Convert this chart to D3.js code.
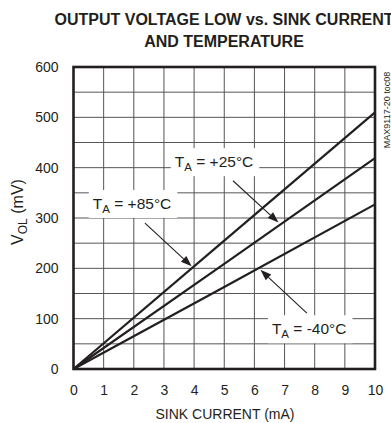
<!DOCTYPE html>
<html>
<head>
<meta charset="utf-8">
<script src="https://cdn.jsdelivr.net/npm/d3@7/dist/d3.min.js"></script>
<style>
  html, body { margin: 0; padding: 0; background: #fff; }
  svg { display: block; font-family: "Liberation Sans", Arial, Helvetica, sans-serif; }
</style>
</head>
<body>
<svg id="chart" width="391" height="423"></svg>
<script>
// ---- data ----
const sinkCurrent = [0, 5, 10];            // mA
const vol85 = [0, 255, 510];               // mV, TA = +85°C
const vol25 = [0, 209, 419];               // mV, TA = +25°C
const volM40 = [0, 163, 327];              // mV, TA = -40°C
const xTicks = [0, 1, 2, 3, 4, 5, 6, 7, 8, 9, 10];
const yTicks = [0, 100, 200, 300, 400, 500, 600];
const yGrid = d3.range(0, 601, 50);
const seriesNames = ["+85°C", "+25°C", "-40°C"];

const titleLines = ["OUTPUT VOLTAGE LOW vs. SINK CURRENT", "AND TEMPERATURE"];

// annotation anchors (data space): label left/baseline, arrow start, arrow tip
const annotations = [
  { name: "+85°C", lx: 0.64, ly: 318, ax0: 2.37, ay0: 290, ax1: 3.92, ay1: 204 },
  { name: "+25°C", lx: 3.36, ly: 401, ax0: 5.29, ay0: 374, ax1: 6.8, ay1: 291 },
  { name: "-40°C", lx: 6.58, ly: 69, ax0: 7.74, ay0: 111, ax1: 6.2, ay1: 197 }
];

// ---- layout ----
const svg = d3.select("#chart");
const x = d3.scaleLinear().domain([0, 10]).range([73.5, 375]);
const y = d3.scaleLinear().domain([0, 600]).range([369, 67]);

// title
svg.append("g").selectAll("text").data(titleLines).join("text")
  .attr("x", 224).attr("y", (d, i) => 25 + i * 22)
  .attr("text-anchor", "middle")
  .attr("font-weight", "bold").attr("font-size", 16).attr("fill", "#231f20")
  .text(d => d);

// grid
const grid = svg.append("g").attr("stroke", "#555").attr("stroke-width", 1);
grid.selectAll("line.v").data(xTicks).join("line").attr("class", "v")
  .attr("x1", d => x(d)).attr("x2", d => x(d)).attr("y1", y(0)).attr("y2", y(600));
grid.selectAll("line.h").data(yGrid).join("line").attr("class", "h")
  .attr("x1", x(0)).attr("x2", x(10)).attr("y1", d => y(d)).attr("y2", d => y(d));

// series
const series = [vol85, vol25, volM40];
const line = d3.line().x((d, i) => x(sinkCurrent[i])).y(d => y(d));
svg.append("g").selectAll("path").data(series).join("path")
  .attr("d", d => line(d)).attr("fill", "none")
  .attr("stroke", "#231f20").attr("stroke-width", 2.2);

// annotation labels with white boxes
const annG = svg.append("g");
annotations.forEach(a => {
  const g = annG.append("g");
  const rect = g.append("rect").attr("fill", "#fff");
  const t = g.append("text")
    .attr("x", x(a.lx)).attr("y", y(a.ly))
    .attr("font-size", 15.5).attr("fill", "#231f20");
  t.append("tspan").text("T");
  t.append("tspan").attr("font-size", 11.5).attr("dy", 4).text("A");
  t.append("tspan").attr("dy", -4).text(" = " + a.name);
  const bb = t.node().getBBox();
  rect.attr("x", bb.x - 4).attr("y", bb.y - 5)
      .attr("width", bb.width + 10).attr("height", bb.height + 8);
  // arrow
  const x0 = x(a.ax0), y0 = y(a.ay0), x1 = x(a.ax1), y1 = y(a.ay1);
  const ang = Math.atan2(y1 - y0, x1 - x0);
  const L = 11, W = 4;
  const bx = x1 - L * Math.cos(ang), by = y1 - L * Math.sin(ang);
  g.append("line").attr("x1", x0).attr("y1", y0).attr("x2", bx).attr("y2", by)
    .attr("stroke", "#231f20").attr("stroke-width", 1.1);
  const px = -Math.sin(ang) * W, py = Math.cos(ang) * W;
  g.append("path")
    .attr("d", `M${x1},${y1}L${bx + px},${by + py}L${bx - px},${by - py}Z`)
    .attr("fill", "#231f20");
});

// frame
svg.append("rect").attr("x", x(0)).attr("y", y(600))
  .attr("width", x(10) - x(0)).attr("height", y(0) - y(600))
  .attr("fill", "none").attr("stroke", "#231f20").attr("stroke-width", 2.6);

// axes (labels only)
const xAxis = svg.append("g").attr("transform", `translate(0,${y(0)})`)
  .call(d3.axisBottom(x).tickValues(xTicks).tickSize(0).tickPadding(16).tickFormat(d3.format("d")));
xAxis.select(".domain").remove();
xAxis.selectAll("text").attr("font-size", 14).attr("fill", "#231f20")
  .attr("font-family", "Liberation Sans, Arial, sans-serif");

const yAxis = svg.append("g").attr("transform", `translate(${x(0)},0)`)
  .call(d3.axisLeft(y).tickValues(yTicks).tickSize(0).tickPadding(15).tickFormat(d3.format("d")));
yAxis.select(".domain").remove();
yAxis.selectAll("text").attr("font-size", 14).attr("fill", "#231f20")
  .attr("font-family", "Liberation Sans, Arial, sans-serif");

// axis titles
svg.append("text").attr("x", 225).attr("y", 419).attr("text-anchor", "middle")
  .attr("font-size", 14).attr("fill", "#231f20").text("SINK CURRENT (mA)");

const yl = svg.append("text").attr("transform", "translate(23,212) rotate(-90)")
  .attr("text-anchor", "middle").attr("font-size", 16).attr("fill", "#231f20");
yl.append("tspan").text("V");
yl.append("tspan").attr("font-size", 12).attr("dy", 4).text("OL");
yl.append("tspan").attr("dy", -4).text(" (mV)");

// side code
svg.append("text").attr("transform", "translate(390,110) rotate(-90)")
  .attr("text-anchor", "middle").attr("font-size", 9).attr("fill", "#231f20")
  .text("MAX9117-20 toc08");
</script>
</body>
</html>
